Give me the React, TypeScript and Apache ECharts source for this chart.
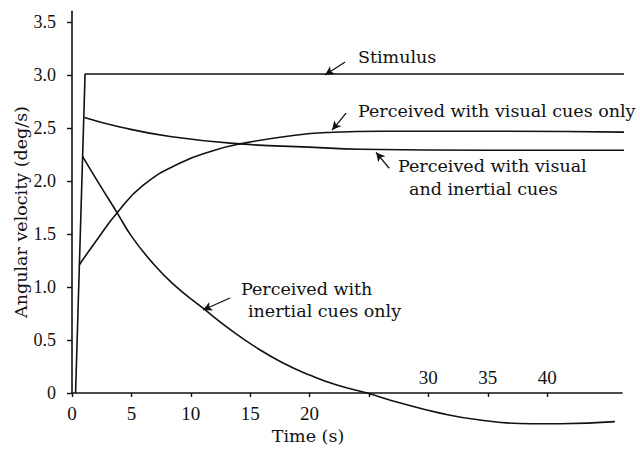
import React, { useEffect, useRef } from "react";
import * as echarts from "echarts";

// Data (time in s, angular velocity in deg/s)
const stimulus: number[][] = [[0.3, 0], [1.1, 3.01], [47.8, 3.01]];
const visualOnly: number[][] = [
  [0.62, 1.21], [2, 1.43], [3.8, 1.7], [6, 1.96], [9.1, 2.17], [12, 2.29],
  [14.15, 2.35], [18.6, 2.43], [22, 2.46], [26, 2.47], [35, 2.47], [47.3, 2.46],
];
const visualInertial: number[][] = [
  [1.05, 2.6], [4.04, 2.51], [8.25, 2.42], [14.15, 2.35], [20, 2.32],
  [24.25, 2.3], [35, 2.29], [47.5, 2.29],
];
const inertialOnly: number[][] = [
  [0.9, 2.23], [2.3, 1.97], [3.8, 1.7], [5, 1.48], [6.57, 1.255], [8.5, 1.03],
  [11.03, 0.8], [13.3, 0.6], [15.5, 0.43], [17.77, 0.283], [20, 0.17],
  [22.3, 0.075], [24.84, 0], [27.5, -0.09], [30.99, -0.19], [34.36, -0.255],
  [38.6, -0.29], [41.1, -0.29], [45.7, -0.27],
];

const xTicks = [0, 5, 10, 15, 20, 25, 30, 35, 40];
const xLabelsBelow = [0, 5, 10, 15, 20];
const xLabelsAbove = [30, 35, 40];
const yTicks = [0, 0.5, 1, 1.5, 2, 2.5, 3, 3.5];

const xAxisTitle = "Time (s)";
const yAxisTitle = "Angular velocity (deg/s)";

// Leader arrows: [tail, head] in data coordinates
const arrows: number[][][] = [
  [[22.99, 3.123], [21.3, 3.0]],
  [[23.07, 2.64], [21.9, 2.48]],
  [[26.7, 2.12], [25.6, 2.27]],
  [[13.3, 0.896], [11.03, 0.783]],
];

const INK = "#111";
const SERIF = "DejaVu Serif";
const NUM = "Liberation Serif, Times New Roman, serif";

export default function App() {
  const ref = useRef<HTMLDivElement>(null);
  useEffect(() => {
    if (!ref.current) return;
    const chart = echarts.init(ref.current, undefined, { renderer: "svg" });
    const lineBase = {
      type: "line" as const,
      showSymbol: false,
      symbol: "none",
      clip: false,
      xAxisIndex: 0,
      yAxisIndex: 0,
      lineStyle: { color: INK, width: 1.6 },
      silent: true,
    };
    const text = (t: string, x: number, y: number) => ({
      type: "text",
      x,
      y,
      silent: true,
      style: {
        text: t,
        fill: INK,
        fontFamily: SERIF,
        fontSize: 17.5,
        verticalAlign: "middle",
        align: "left",
      },
    });
    chart.setOption({
      animation: false,
      backgroundColor: "#fff",
      grid: { left: 72, right: 18, top: 11.4, bottom: 59, containLabel: false, outerBoundsMode: "none" },
      xAxis: [
        {
          type: "value",
          min: 0,
          max: 46.3,
          interval: 5,
          position: "bottom",
          splitLine: { show: false },
          axisLine: { show: true, onZero: false, lineStyle: { color: INK, width: 1.6 } },
          axisTick: { show: true, inside: false, length: 4, customValues: xTicks, lineStyle: { color: INK, width: 1.4 } },
          axisLabel: {
            customValues: xLabelsBelow,
            margin: 11,
            color: INK,
            fontFamily: NUM,
            fontSize: 19,
          },
        },
        {
          type: "value",
          min: 0,
          max: 46.3,
          interval: 5,
          position: "bottom",
          splitLine: { show: false },
          axisLine: { show: false },
          axisTick: { show: false },
          axisLabel: {
            inside: true,
            customValues: xLabelsAbove,
            margin: 6,
            color: INK,
            fontFamily: NUM,
            fontSize: 19,
          },
        },
      ],
      yAxis: {
        type: "value",
        min: 0,
        max: 3.6,
        interval: 0.5,
        splitLine: { show: false },
        axisLine: { show: true, onZero: false, lineStyle: { color: INK, width: 1.6 } },
        axisTick: { show: true, length: 5, customValues: yTicks, lineStyle: { color: INK, width: 1.4 } },
        axisLabel: {
          customValues: yTicks,
          margin: 16,
          color: INK,
          fontFamily: NUM,
          fontSize: 18,
          formatter: (v: number) => (v === 0 ? "0" : v.toFixed(1)),
        },
      },
      series: [
        {
          ...lineBase,
          name: "Stimulus",
          data: stimulus,
          markLine: {
            silent: true,
            animation: false,
            symbolSize: [7, 9],
            label: { show: false },
            lineStyle: { color: INK, width: 1.3, type: "solid" },
            data: arrows.map((a) => [
              { coord: a[0], symbol: "none" },
              { coord: a[1], symbol: "arrow" },
            ]),
          },
        },
        { ...lineBase, name: "Visual only", data: visualOnly, smooth: 0.5 },
        { ...lineBase, name: "Visual and inertial", data: visualInertial, smooth: 0.5 },
        { ...lineBase, name: "Inertial only", data: inertialOnly, smooth: 0.5 },
      ],
      graphic: [
        text("Stimulus", 358, 57),
        text("Perceived with visual cues only", 358, 111),
        text("Perceived with visual", 398, 166),
        text("and inertial cues", 409, 189),
        text("Perceived with", 241, 289),
        text("inertial cues only", 248, 311),
        {
          type: "text",
          x: 308,
          y: 436,
          silent: true,
          style: { text: xAxisTitle, fill: INK, fontFamily: SERIF, fontSize: 17.5, align: "center", verticalAlign: "middle" },
        },
        {
          type: "text",
          x: 21,
          y: 212,
          rotation: Math.PI / 2,
          silent: true,
          style: { text: yAxisTitle, fill: INK, fontFamily: SERIF, fontSize: 17.5, align: "center", verticalAlign: "middle" },
        },
      ],
    });
    return () => chart.dispose();
  }, []);
  return (
    <div
      ref={ref}
      style={{ position: "fixed", left: 0, top: 0, width: 640, height: 452, background: "#fff" }}
    />
  );
}
